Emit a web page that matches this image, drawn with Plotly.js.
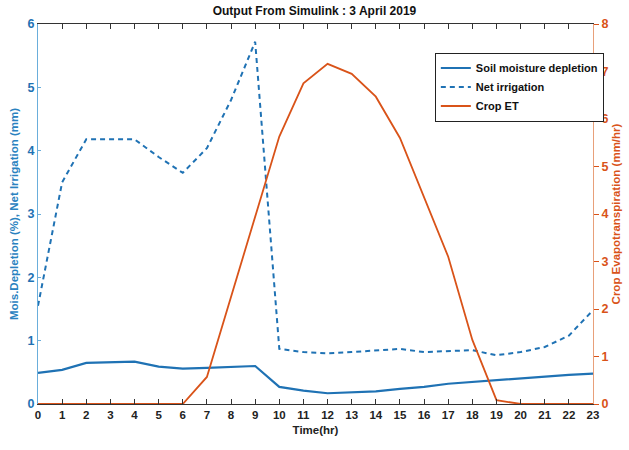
<!DOCTYPE html>
<html><head><meta charset="utf-8">
<script src="https://cdn.plot.ly/plotly-3.0.1.min.js"></script>
<style>html,body{margin:0;padding:0;background:#fff}#chart{width:629px;height:450px}</style>
</head><body><div id="chart"></div>
<script>
const hours = [0,1,2,3,4,5,6,7,8,9,10,11,12,13,14,15,16,17,18,19,20,21,22,23];
const soilDepletion = [0.49,0.54,0.65,0.66,0.67,0.59,0.56,0.57,0.58,0.60,0.27,0.21,0.17,0.18,0.20,0.24,0.27,0.32,0.35,0.38,0.41,0.43,0.46,0.48];
const netIrrigation = [1.55,3.5,4.18,4.18,4.18,3.9,3.65,4.04,4.8,5.72,0.87,0.82,0.80,0.82,0.84,0.87,0.82,0.83,0.85,0.77,0.82,0.90,1.08,1.48];
const cropET = [0,0,0,0,0,0,0,0.57,2.25,3.95,5.63,6.75,7.16,6.95,6.47,5.6,4.35,3.1,1.35,0.08,0,0,0,0];

const blue = '#1f72b4', orange = '#d95319';
const narrow = '"Liberation Sans", Arial, sans-serif';

const traces = [
  {x: hours, y: soilDepletion, name: 'Soil moisture depletion', mode: 'lines', line: {color: blue, width: 2.2}, yaxis: 'y'},
  {x: hours, y: netIrrigation, name: 'Net irrigation', mode: 'lines', line: {color: blue, width: 2, dash: '5px,4px'}, yaxis: 'y'},
  {x: hours, y: cropET, name: 'Crop ET', mode: 'lines', line: {color: orange, width: 1.8}, yaxis: 'y2'}
];

const layout = {
  width: 629, height: 450,
  margin: {l: 38, r: 36, t: 24, b: 46},
  paper_bgcolor: '#fff', plot_bgcolor: '#fff',
  showlegend: true,
  title: {text: '<b>Output From Simulink : 3 April 2019</b>', font: {family: narrow, size: 12, color: '#111'}, x: 0.5, xanchor: 'center', y: 0.985, yanchor: 'top', automargin: false},
  xaxis: {
    range: [0, 23], tickmode: 'array', tickvals: hours, ticktext: hours.map(String),
    ticks: 'inside', ticklen: 5, tickcolor: '#333', mirror: 'ticks', automargin: false,
    showline: true, linecolor: '#333', linewidth: 1, showgrid: false, zeroline: false,
    tickfont: {family: narrow, size: 11.5, color: '#222', weight: 'bold'},
    title: {text: '<b>Time(hr)</b>', font: {family: narrow, size: 11.5, color: '#222'}, standoff: 6}
  },
  yaxis: {
    range: [0, 6], tickvals: [0,1,2,3,4,5,6], ticks: 'inside', ticklen: 3, tickcolor: '#6aaedb', showgrid: false, zeroline: false,
    showline: true, linecolor: '#6aaedb', linewidth: 1, automargin: false,
    tickfont: {family: narrow, size: 12.5, color: blue, weight: 'bold'},
    title: {text: '<b>Mois.Depletion (%), Net Irrigation (mm)</b>', font: {family: narrow, size: 11.5, color: '#2a82c0'}, standoff: 6}
  },
  yaxis2: {
    range: [0, 8], tickvals: [0,1,2,3,4,5,6,7,8], overlaying: 'y', side: 'right',
    ticks: 'outside', ticklen: 5, tickcolor: orange, showgrid: false, zeroline: false,
    showline: true, linecolor: '#e8a07a', linewidth: 1, automargin: false,
    tickfont: {family: narrow, size: 12.5, color: orange, weight: 'bold'},
    title: {text: '<b>Crop Evapotranspiration (mm/hr)</b>', font: {family: narrow, size: 11.5, color: orange}, standoff: 4}
  },
  legend: {
    x: 0.715, y: 0.925, xanchor: 'left', yanchor: 'top',
    bgcolor: '#fff', bordercolor: '#222', borderwidth: 1,
    font: {family: narrow, size: 11, color: '#111', weight: 'bold'},
    tracegroupgap: 0, itemwidth: 30
  }
};

Plotly.newPlot('chart', traces, layout, {displayModeBar: false, staticPlot: true});
</script></body></html>
